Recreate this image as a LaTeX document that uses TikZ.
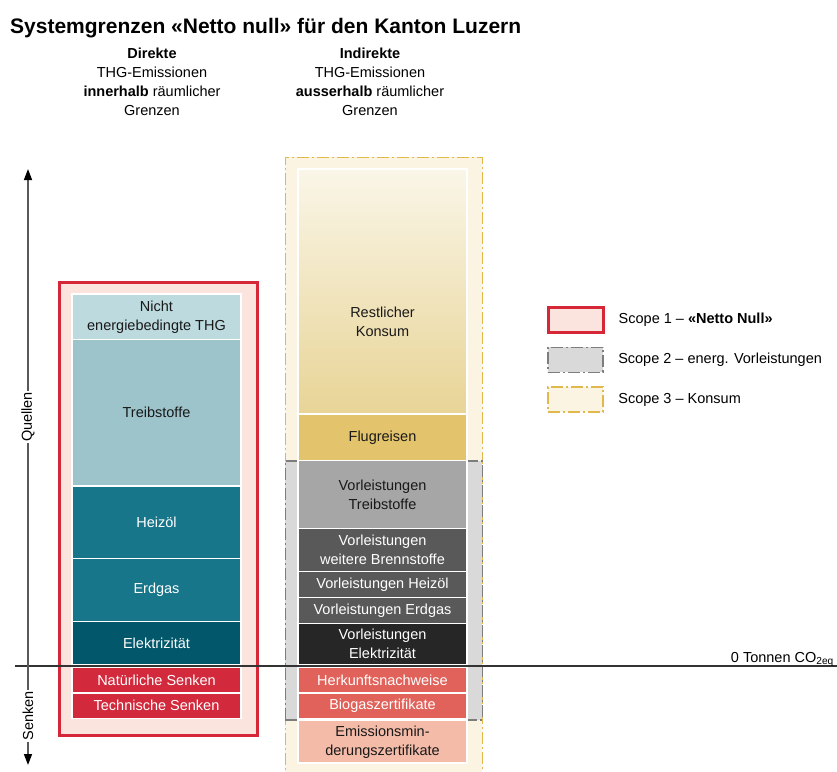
\documentclass[tikz,border=0pt]{standalone}
\usepackage{fontspec}
\setmainfont{Liberation Sans}
\usepackage{tikz}
\usetikzlibrary{positioning,arrows.meta}
\definecolor{scoperot}{RGB}{214,39,56}
\definecolor{scoperosa}{RGB}{252,228,222}
\definecolor{scopegrau}{RGB}{125,125,125}
\definecolor{scopehell}{RGB}{217,217,217}
\definecolor{scopegelb}{RGB}{224,184,76}
\definecolor{scopecreme}{RGB}{251,244,226}
\definecolor{nichtblau}{RGB}{189,218,223}
\definecolor{treibblau}{RGB}{157,195,203}
\definecolor{fossilblau}{RGB}{24,118,138}
\definecolor{stromblau}{RGB}{3,87,107}
\definecolor{senkenrot}{RGB}{210,42,60}
\definecolor{konsumhell}{RGB}{250,246,232}
\definecolor{konsummitte}{RGB}{242,229,186}
\definecolor{konsumgold}{RGB}{232,212,150}
\definecolor{fluggold}{RGB}{227,196,108}
\definecolor{vorlhell}{RGB}{166,166,166}
\definecolor{vorlmittel}{RGB}{89,89,89}
\definecolor{vorldunkel}{RGB}{38,38,38}
\definecolor{zertrot}{RGB}{224,98,90}
\definecolor{zertrosa}{RGB}{243,187,168}

\begin{document}
\begin{tikzpicture}[x=1pt, y=-1pt, font=\fontsize{14.5}{19}\selectfont]
\tikzstyle{bar}=[rectangle, draw=white, line width=1.5pt, outer sep=0pt, inner sep=0pt, minimum width=169, align=center, text=black!90]
\tikzstyle{darkbar}=[bar, text=white]
\tikzstyle{scopeI}=[rectangle, draw=scoperot, line width=2.5pt, fill=scoperosa, inner sep=0pt]
\tikzstyle{scopeII}=[rectangle, draw=scopegrau, line width=1.6pt, fill=scopehell, inner sep=0pt, dash pattern=on 12pt off 3pt on 2pt off 3pt]
\tikzstyle{scopeIII}=[rectangle, draw=scopegelb, line width=1.8pt, fill=scopecreme, inner sep=0pt, dash pattern=on 12pt off 3pt on 2pt off 3pt]
\tikzstyle{legtext}=[inner sep=0pt, anchor=west]
\tikzstyle{axis}=[{Triangle[length=11pt,width=8pt,black]}-{Triangle[length=11pt,width=8pt,black]}, line width=1.5pt, draw=black!65]

\useasboundingbox (0,0) rectangle (837,771);

% Titel und Spaltenkoepfe
\node[anchor=base west, inner sep=0pt, font=\bfseries\fontsize{21}{25}\selectfont] (title) at (10,33) {Systemgrenzen «Netto null» für den Kanton Luzern};
\node[align=center] (direkt)   at (152,82) {\textbf{Direkte}\\THG-Emissionen\\\textbf{innerhalb} räumlicher\\Grenzen};
\node[align=center] (indirekt) at (370,82) {\textbf{Indirekte}\\THG-Emissionen\\\textbf{ausserhalb} räumlicher\\Grenzen};

% Systemgrenzen
\node[scopeIII, anchor=north west, minimum width=197, minimum height=630] (scope3) at (284.5,156.5) {};
\node[scopeII,  anchor=north west, minimum width=197, minimum height=259] (scope2) at (284.5,460) {};
\node[scopeI,   anchor=north west, minimum width=198, minimum height=453] (scope1) at (58,281) {};

% direkte Emissionen
\node[bar, fill=nichtblau, minimum height=45.5, anchor=north west] (nicht) at (72,294) {Nicht\\energiebedingte THG};
\node[bar, fill=treibblau, minimum height=146.5]   (treib)   [below=0pt of nicht]   {Treibstoffe};
\node[darkbar, fill=fossilblau, minimum height=72.5] (heizoel) [below=0pt of treib]   {Heizöl};
\node[darkbar, fill=fossilblau, minimum height=63]   (erdgas)  [below=0pt of heizoel] {Erdgas};
\node[darkbar, fill=stromblau, minimum height=43.5]  (strom)   [below=0pt of erdgas]  {Elektrizität};
\node[darkbar, fill=senkenrot, minimum height=25.5]  (natsenk) [below=2.5pt of strom] {Natürliche Senken};
\node[darkbar, fill=senkenrot, minimum height=25.5]  (techsenk) [below=0pt of natsenk] {Technische Senken};

% indirekte Emissionen
\node[bar, top color=konsumhell, middle color=konsummitte, bottom color=konsumgold, minimum height=245, anchor=north west,
      label={[align=center, text=black!90, yshift=-30pt]center:Restlicher\\Konsum}] (konsum) at (298,169) {};
\node[bar, fill=fluggold, minimum height=46.5]       (flug)     [below=0pt of konsum]   {Flugreisen};
\node[bar, fill=vorlhell, minimum height=68]         (vtreib)   [below=0pt of flug]     {Vorleistungen\\Treibstoffe};
\node[darkbar, fill=vorlmittel, minimum height=43]   (vbrenn)   [below=0pt of vtreib]   {Vorleistungen\\weitere Brennstoffe};
\node[darkbar, fill=vorlmittel, minimum height=26]   (vheizoel) [below=0pt of vbrenn]   {Vorleistungen Heizöl};
\node[darkbar, fill=vorlmittel, minimum height=26]   (verdgas)  [below=0pt of vheizoel] {Vorleistungen Erdgas};
\node[darkbar, fill=vorldunkel, minimum height=41.5] (vstrom)   [below=0pt of verdgas]  {Vorleistungen\\Elektrizität};
\node[darkbar, fill=zertrot, minimum height=25.5]    (herkunft) [below=2.5pt of vstrom] {Herkunftsnachweise};
\node[darkbar, fill=zertrot, minimum height=26]      (biogas)   [below=0pt of herkunft] {Biogaszertifikate};
\node[bar, fill=zertrosa, minimum height=42.5]       (emission) [below=1.5pt of biogas] {Emissionsmin-\\derungszertifikate};

% Nulllinie
\coordinate (nullL) at (15,666);
\coordinate (nullR) at (837,666);
\draw[line width=1.2pt, black!80] (nullL) -- (nullR);
\node[anchor=base east, inner sep=0pt] (nulltext) at (834,662) {0 Tonnen CO\textsubscript{2eq}};

% Achse
\coordinate (quellentop) at (28,169);
\coordinate (senkenbot)  at (28,765);
\draw[axis] (senkenbot) -- (quellentop);
\node[rotate=90, fill=white, inner sep=1pt] (quellen) at (28,417) {Quellen};
\node[rotate=90, fill=white, inner sep=1pt] (senken)  at (28,716) {Senken};

% Legende
\node[scopeI,   anchor=north west, minimum width=55, minimum height=25] (leg1) at (547,306) {};
\node[scopeII,  minimum width=55, minimum height=25] (leg2) [below=13pt of leg1] {};
\node[scopeIII, minimum width=55, minimum height=25] (leg3) [below=13pt of leg2] {};
\node[legtext] (leg1text) [right=14pt of leg1] {Scope 1 – \textbf{«Netto Null»}};
\node[legtext] (leg2text) [right=14pt of leg2] {Scope 2 – energ. Vorleistungen};
\node[legtext] (leg3text) [right=14pt of leg3] {Scope 3 – Konsum};

\end{tikzpicture}
\end{document}
